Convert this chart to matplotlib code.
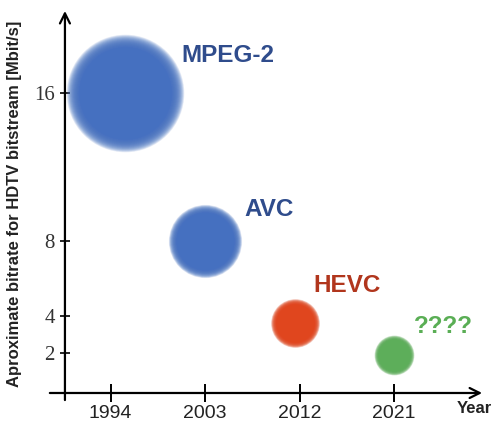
import matplotlib
matplotlib.use("Agg")
import matplotlib.pyplot as plt

# ---- data ----
codecs = ["MPEG-2", "AVC", "HEVC", "????"]
years = [1995.4, 2003.0, 2011.6, 2021.0]
bitrate = [16.0, 8.0, 3.6, 1.9]
x_ticks = [1994, 2003, 2012, 2021]
y_ticks = [2, 4, 8, 16]

# ---- styles ----
bubble_colors = ["#4570C0", "#4570C0", "#E0461E", "#5DAE5A"]
text_colors = ["#2F4C8C", "#2F4C8C", "#B1361D", "#5AAE55"]
bubble_radius_px = [53, 33, 22, 18]
label_offsets = [(5.3, 1.68), (3.75, 1.35), (1.7, 1.67), (1.9, 1.16)]  # (years, value) from bubble centre to label baseline

plt.rcParams['font.family'] = ['Liberation Sans', 'DejaVu Sans']

fig = plt.figure(figsize=(4.93, 4.23), dpi=100)
ax = fig.add_axes([0, 0, 1, 1])
ax.set_xlim(1983.45, 2030.44)
ax.set_ylim(-1.764, 20.99)

# soft-edged bubbles
def soft_bubble(ax, x, y, r_px, color):
    pt = 72.0 / fig.dpi
    n = 28
    inner, outer = 0.87, 1.11
    for i in range(n):
        f = outer - (outer - inner) * i / (n - 1)
        ax.scatter([x], [y], s=(2 * r_px * f * pt) ** 2, color=color,
                   alpha=0.11, linewidths=0, zorder=3)
    ax.scatter([x], [y], s=(2 * r_px * inner * pt) ** 2, color=color,
               linewidths=0, zorder=3)

for x, y, r, c in zip(years, bitrate, bubble_radius_px, bubble_colors):
    soft_bubble(ax, x, y, r, c)

for name, x, y, (dx, dy), c in zip(codecs, years, bitrate, label_offsets, text_colors):
    ax.text(x + dx, y + dy, name, color=c, fontsize=17.5, fontweight='bold',
            ha='left', va='baseline', zorder=4)

# axes with arrows
for s in ax.spines.values():
    s.set_visible(False)
ax.spines['left'].set_position(('data', 1989.64))
ax.spines['bottom'].set_position(('data', -0.15))

ax.annotate('', xy=(2029.4, -0.15), xytext=(1988.2, -0.15),
            arrowprops=dict(arrowstyle='->', lw=1.6, color='black',
                            mutation_scale=18, shrinkA=0, shrinkB=0))
ax.annotate('', xy=(1989.64, 20.4), xytext=(1989.64, -0.53),
            arrowprops=dict(arrowstyle='->', lw=1.6, color='black',
                            mutation_scale=18, shrinkA=0, shrinkB=0))

ax.set_xticks(x_ticks)
ax.set_xticklabels([str(t) for t in x_ticks], fontsize=14, color='#222222')
ax.set_yticks(y_ticks)
ax.set_yticklabels([str(t) for t in y_ticks], fontsize=15,
                   family=['Liberation Serif'], color='#333333')
ax.tick_params(axis='x', direction='inout', length=13, width=1.4, pad=2)
ax.tick_params(axis='y', direction='inout', length=6.5, width=1.2, pad=4)

ax.text(0.997, -1.2, "Year", fontsize=12, fontweight='bold', ha='right',
        va='baseline', color='#222222',
        transform=ax.get_yaxis_transform())
ax.text(1984.8, 10.0, "Aproximate bitrate for HDTV bitstream [Mbit/s]",
        fontsize=12, fontweight='bold', rotation=90, ha='center', va='center',
        color='#222222')

fig.savefig("out.png", dpi=100)
